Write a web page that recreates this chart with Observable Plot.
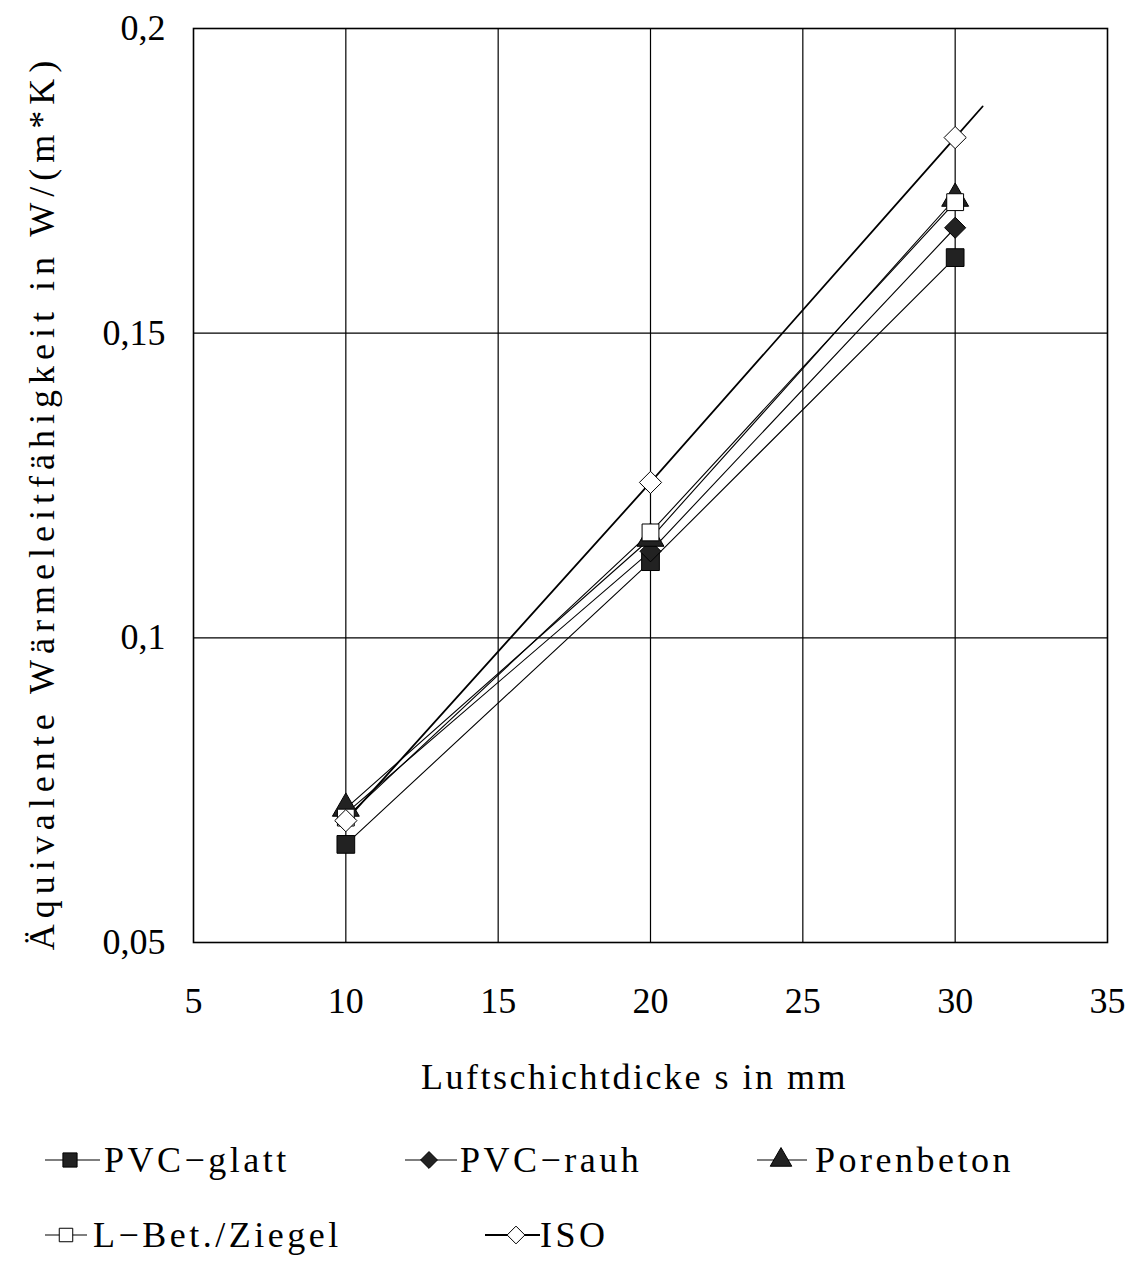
<!DOCTYPE html>
<html>
<head>
<meta charset="utf-8">
<script src="https://cdn.jsdelivr.net/npm/d3@7"></script>
<script src="https://cdn.jsdelivr.net/npm/@observablehq/plot@0.6"></script>
<style>
  html, body { margin: 0; padding: 0; background: #fff; }
  #wrap { width: 1132px; font-family: "Liberation Serif", "DejaVu Serif", serif; }
  #legend { position: relative; width: 1132px; height: 152px; }
  .item { position: absolute; display: flex; align-items: center; font-size: 36px; letter-spacing: 3.5px; color: #000; white-space: nowrap; }
  .item svg { display: block; }
</style>
</head>
<body>
<div id="wrap"><div id="chart"></div><div id="legend"></div></div>
<script>
// ---- data ----
const xValues = [10, 20, 30];
const seriesNames = ["PVC−glatt", "PVC−rauh", "Porenbeton", "L−Bet./Ziegel", "ISO"];
const pvcGlatt   = [0.0661, 0.1125, 0.1624];
const pvcRauh    = [0.0712, 0.1142, 0.1673];
const porenbeton = [0.0720, 0.1163, 0.1721];
const lBetZiegel = [0.0705, 0.1173, 0.1715];
const iso        = [0.0700, 0.1255, 0.1821];
const isoLineX   = [10, 20, 30, 30.9];
const isoLineY   = [0.0700, 0.1255, 0.1821, 0.1872];
const xTicks = [5, 10, 15, 20, 25, 30, 35];
const yTicks = [0.05, 0.1, 0.15, 0.2];
const xLabel = "Luftschichtdicke s in mm";
const yLabel = "Äquivalente Wärmeleitfähigkeit in W/(m*K)";

// ---- styling per series ----
const seriesValues = [pvcGlatt, pvcRauh, porenbeton, lBetZiegel, iso];
const symbols = ["square", "diamond2", "triangle", "square", "diamond2"];
const fills = ["#222", "#222", "#222", "white", "white"];
const radii = [10, 9.5, 10, 9.5, 10];

const rows = [];
seriesNames.forEach((s, i) => {
  if (s === "ISO") return;
  xValues.forEach((x, j) => rows.push({series: s, x, y: seriesValues[i][j], i}));
});
const isoLine = isoLineX.map((x, j) => ({x, y: isoLineY[j]}));

const comma = d => String(d).replace(".", ",");
const font = "Liberation Serif";

const marks = [
  Plot.gridX(xTicks.slice(1, -1), {stroke: "#000", strokeOpacity: 1, strokeWidth: 1.2}),
  Plot.gridY([0.1, 0.15], {stroke: "#000", strokeOpacity: 1, strokeWidth: 1.2}),
  Plot.frame({stroke: "#000", strokeWidth: 1.6}),
  Plot.axisX(xTicks, {tickSize: 0, tickPadding: 45, fontSize: 36, label: null, tickFormat: comma}),
  Plot.axisY(yTicks, {tickSize: 0, tickPadding: 28, fontSize: 36, label: null, tickFormat: comma}),
  Plot.line(rows, {x: "x", y: "y", z: "series", stroke: "#000", strokeWidth: 1.1}),
  Plot.line(isoLine, {x: "x", y: "y", stroke: "#000", strokeWidth: 1.8})
];
seriesNames.forEach((s, i) => {
  const pts = xValues.map((x, j) => ({x, y: seriesValues[i][j]}));
  marks.push(Plot.dot(pts, {x: "x", y: "y", symbol: () => symbols[i], r: radii[i], fill: fills[i], stroke: "#000", strokeWidth: 1}));
});
marks.push(
  Plot.text([xLabel], {frameAnchor: "bottom", lineAnchor: "middle", dy: 135, dx: -16, fontSize: 36, fill: "#000"}),
  Plot.text([yLabel], {frameAnchor: "left", textAnchor: "middle", lineAnchor: "middle", dx: -151, dy: 17, rotate: -90, fontSize: 36, fill: "#000"})
);

const chart = Plot.plot({
  width: 1132,
  height: 1110,
  marginLeft: 193,
  marginRight: 25,
  marginTop: 28,
  marginBottom: 168,
  style: {fontFamily: font, background: "#fff", color: "#000"},
  x: {domain: [5, 35]},
  y: {domain: [0.05, 0.2]},
  marks
});
// letter-spacing for the axis titles
chart.querySelectorAll("text").forEach(t => {
  if (t.textContent === yLabel) t.setAttribute("letter-spacing", "6");
  if (t.textContent === xLabel) t.setAttribute("letter-spacing", "2.5");
});
document.getElementById("chart").appendChild(chart);

// ---- legend ----
const legendPos = [
  {left: 45, top: 1160, lineW: 55, symX: 25, gap: 4},
  {left: 405, top: 1160, lineW: 52, symX: 24, gap: 3},
  {left: 757, top: 1160, lineW: 50, symX: 24, gap: 8},
  {left: 45, top: 1235, lineW: 42, symX: 21, gap: 6},
  {left: 485, top: 1235, lineW: 55, symX: 31, gap: 0}
];
const symbolMap = {square: d3.symbolSquare, diamond2: d3.symbolDiamond2, triangle: d3.symbolTriangle};
const legend = document.getElementById("legend");
seriesNames.forEach((s, i) => {
  const p = legendPos[i];
  const div = document.createElement("div");
  div.className = "item";
  div.style.left = p.left + "px";
  div.style.top = (p.top - 1110 - 22) + "px";
  div.style.height = "44px";
  const r = radii[i] * 0.8;
  const path = d3.symbol(symbolMap[symbols[i]], Math.PI * r * r)();
  const sw = s === "ISO" ? 2 : 1.2;
  div.innerHTML = `<svg width="${p.lineW}" height="44"><line x1="0" x2="${p.lineW}" y1="22" y2="22" stroke="#000" stroke-width="${sw}"/>` +
    `<path d="${path}" transform="translate(${p.symX},22)" fill="${fills[i]}" stroke="#000" stroke-width="1"/></svg>` +
    `<span style="margin-left:${p.gap}px">${s}</span>`;
  legend.appendChild(div);
});
</script>
</body>
</html>
